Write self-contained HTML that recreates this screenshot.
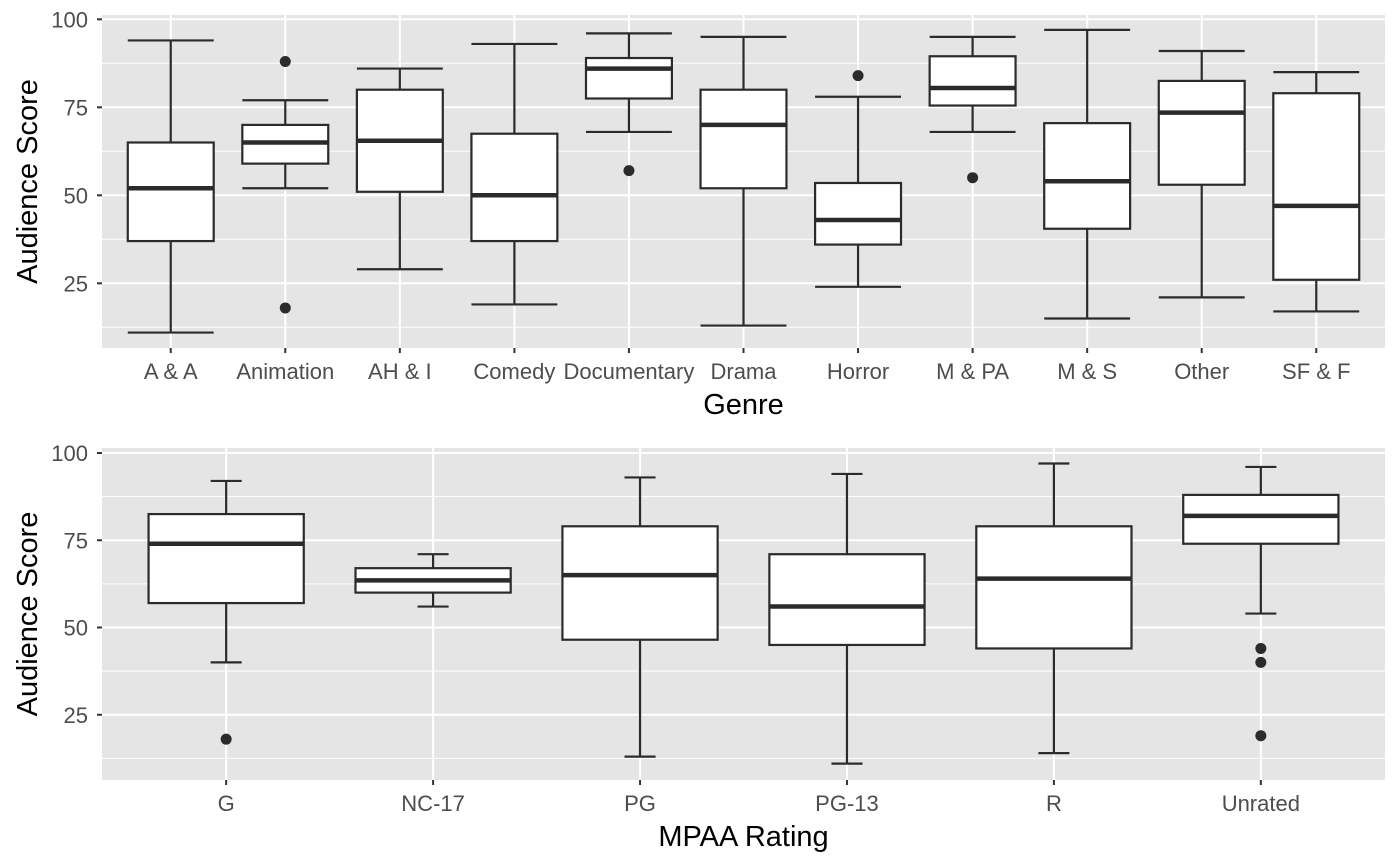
<!DOCTYPE html>
<html><head><meta charset="utf-8"><style>
body{margin:0;background:#fff;}
svg{display:block;font-family:"Liberation Sans",Arial,sans-serif;}
</style></head><body>
<svg id="chart" width="1400" height="865"></svg>
<script>
const genres=["A & A","Animation","AH & I","Comedy","Documentary","Drama","Horror","M & PA","M & S","Other","SF & F"];
const gMin=[11,52,29,19,68,13,24,68,15,21,17];
const gQ1=[37,59,51,37,77.5,52,36,75.5,40.5,53,26];
const gMed=[52,65,65.5,50,86,70,43,80.5,54,73.5,47];
const gQ3=[65,70,80,67.5,89,80,53.5,89.5,70.5,82.5,79];
const gMax=[94,77,86,93,96,95,78,95,97,91,85];
const gOut=[[],[88,18],[],[],[57],[],[84],[55],[],[],[]];
const ratings=["G","NC-17","PG","PG-13","R","Unrated"];
const rMin=[40,56,13,11,14,54];
const rQ1=[57,60,46.5,45,44,74];
const rMed=[74,63.5,65,56,64,82];
const rQ3=[82.5,67,79,71,79,88];
const rMax=[92,71,93,94,97,96];
const rOut=[[18],[],[],[],[],[44,40,19]];
const yTicks=[25,50,75,100];
const yMinor=[12.5,37.5,62.5,87.5];

const svg=document.getElementById('chart');
const NS="http://www.w3.org/2000/svg";
function el(t,a,p){const e=document.createElementNS(NS,t);for(const k in a)e.setAttribute(k,a[k]);(p||svg).appendChild(e);return e;}

function panel(o){
  const g=el('g',{});
  
  
  const L=102,R=1385,n=o.cats.length,step=(R-L)/(n-1+1.2);
  const x=i=>L+(0.6+i)*step;
  const y=v=>o.y100+(100-v)*o.ppu;
  const bg=el('rect',{x:L,y:o.top,width:R-L,height:o.bot-o.top,fill:'#e5e5e5'},g);
  
  yMinor.forEach(v=>{const yy=y(v);if(yy>o.top&&yy<o.bot)el('line',{x1:L,x2:R,y1:yy,y2:yy,stroke:'#fff','stroke-width':1},g);});
  yTicks.forEach(v=>{el('line',{x1:L,x2:R,y1:y(v),y2:y(v),stroke:'#fff','stroke-width':2},g);
    el('line',{x1:L-5,x2:L,y1:y(v),y2:y(v),stroke:'#333','stroke-width':2},g);
    const t=el('text',{x:L-14,y:y(v)+8,'text-anchor':'end','font-size':22,fill:'#4d4d4d'},g);t.textContent=v;
    });
  o.cats.forEach((c,i)=>{const xx=x(i);
    el('line',{x1:xx,x2:xx,y1:o.top,y2:o.bot,stroke:'#fff','stroke-width':2},g);
    el('line',{x1:xx,x2:xx,y1:o.bot,y2:o.bot+5,stroke:'#333','stroke-width':2},g);
    const t=el('text',{x:xx,y:o.bot+31,'text-anchor':'middle','font-size':22,fill:'#4d4d4d'},g);t.textContent=c;
    });
  o.cats.forEach((c,i)=>{const xx=x(i),bw=0.75*step/2,cw=o.cap*step/2;
    const b=el('g',{},g);
    
    
    const st={stroke:'#2b2b2b','stroke-width':2.2,fill:'none'};
    el('line',Object.assign({x1:xx,x2:xx,y1:y(o.max[i]),y2:y(o.q3[i])},st),b);
    el('line',Object.assign({x1:xx,x2:xx,y1:y(o.q1[i]),y2:y(o.min[i])},st),b);
    el('line',Object.assign({x1:xx-cw,x2:xx+cw,y1:y(o.max[i]),y2:y(o.max[i])},st),b);
    el('line',Object.assign({x1:xx-cw,x2:xx+cw,y1:y(o.min[i]),y2:y(o.min[i])},st),b);
    el('rect',{x:xx-bw,y:y(o.q3[i]),width:2*bw,height:y(o.q1[i])-y(o.q3[i]),fill:'#fff',stroke:'#2b2b2b','stroke-width':2.2},b);
    el('line',{x1:xx-bw,x2:xx+bw,y1:y(o.med[i]),y2:y(o.med[i]),stroke:'#2b2b2b','stroke-width':4.5},b);
    o.out[i].forEach(v=>{const p=el('circle',{cx:xx,cy:y(v),r:5.5,fill:'#2b2b2b'},b);
      });
  });
  const xt=el('text',{x:(L+R)/2,y:o.bot+66,'text-anchor':'middle','font-size':29,fill:'#000'},g);xt.textContent=o.xtitle;
  
  const cy=(o.top+o.bot)/2;
  const yt=el('text',{x:cy,y:0,'text-anchor':'middle','font-size':29,fill:'#000',transform:'translate(37 0) rotate(-90 0 0) translate('+(-2*cy)+' 0)'},g);
  yt.setAttribute('x',cy);
  yt.textContent='Audience Score';
  
}
panel({name:'genre-panel',cats:genres,min:gMin,q1:gQ1,med:gMed,q3:gQ3,max:gMax,out:gOut,top:15,bot:348,y100:19.3,ppu:3.52,cap:0.75,xtitle:'Genre'});
panel({name:'mpaa-panel',cats:ratings,min:rMin,q1:rQ1,med:rMed,q3:rQ3,max:rMax,out:rOut,top:448,bot:780,y100:453,ppu:3.49,cap:0.15,xtitle:'MPAA Rating'});
</script>
</body></html>
